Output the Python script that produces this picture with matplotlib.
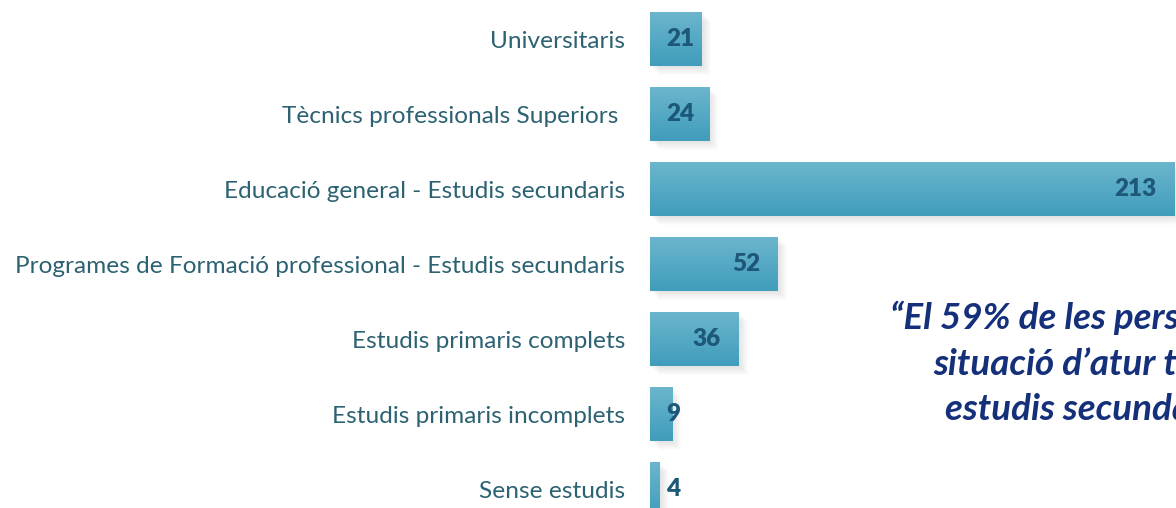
import numpy as np
import matplotlib.pyplot as plt
from matplotlib.patches import Rectangle
from matplotlib.transforms import offset_copy

# data
categories = [
    "Universitaris",
    "Tècnics professionals Superiors ",
    "Educació general - Estudis secundaris",
    "Programes de Formació professional - Estudis secundaris",
    "Estudis primaris complets",
    "Estudis primaris incomplets",
    "Sense estudis",
]
values = [21, 24, 213, 52, 36, 9, 4]
quote = "\u201cEl 59% de les persones en\nsituació d\u2019atur tenen\nestudis secundaris\u201d"

plt.rcParams['font.family'] = ['Lato', 'DejaVu Sans']

fig = plt.figure(figsize=(11.76, 5.08), dpi=100)
ax = fig.add_axes([650 / 1176, 0, 526 / 1176, 1])

ypos = np.arange(len(values))
bar_h = 0.72
bars = ax.barh(ypos, values, height=bar_h, color='#56a9c5', zorder=3)

# vertical gradient inside each bar
grad = np.linspace(0, 1, 64).reshape(-1, 1)
cmap = plt.matplotlib.colors.LinearSegmentedColormap.from_list('bar', ['#6cb6cd', '#409dbc'])
for b, y, v in zip(bars, ypos, values):
    im = ax.imshow(grad, extent=[0, v, y + bar_h / 2, y - bar_h / 2],
                   cmap=cmap, aspect='auto', zorder=4, interpolation='bilinear')
    im.set_clip_path(b)

    # soft shadow
    for k in range(1, 10):
        tr = offset_copy(ax.transData, fig=fig, x=k * 1.0, y=-k * 1.0, units='dots')
        sh = Rectangle((0, y - bar_h / 2), v, bar_h, transform=tr,
                       color='#000000', alpha=0.012, lw=0, zorder=2)
        ax.add_patch(sh)

ax.set_xlim(0, 213.8)
ax.set_ylim(6.253, -0.52)

# value labels
for y, v in zip(ypos, values):
    if v < 30:
        tr = offset_copy(ax.transData, fig=fig, x=16, y=0, units='dots')
        ax.text(0, y, str(v), transform=tr, ha='left', va='center',
                fontsize=17.5, fontweight='heavy', color='#1d5878', zorder=6)
    else:
        tr = offset_copy(ax.transData, fig=fig, x=-18, y=0, units='dots')
        ax.text(v, y, str(v), transform=tr, ha='right', va='center',
                fontsize=17.5, fontweight='heavy', color='#1d5878', zorder=6)

ax.set_yticks(ypos)
ax.set_yticklabels(categories, fontsize=17.6, color='#2c6272')
ax.tick_params(axis='y', length=0, pad=18)
ax.set_xticks([])
for s in ax.spines.values():
    s.set_visible(False)
ax.set_facecolor('none')

fig.text(890 / 1176, 1 - 301 / 508, quote, ha='left', va='top',
         multialignment='center', fontsize=26.5, fontweight='bold',
         fontstyle='italic', color='#15307a', linespacing=1.45)

fig.savefig('out.png', dpi=100)
